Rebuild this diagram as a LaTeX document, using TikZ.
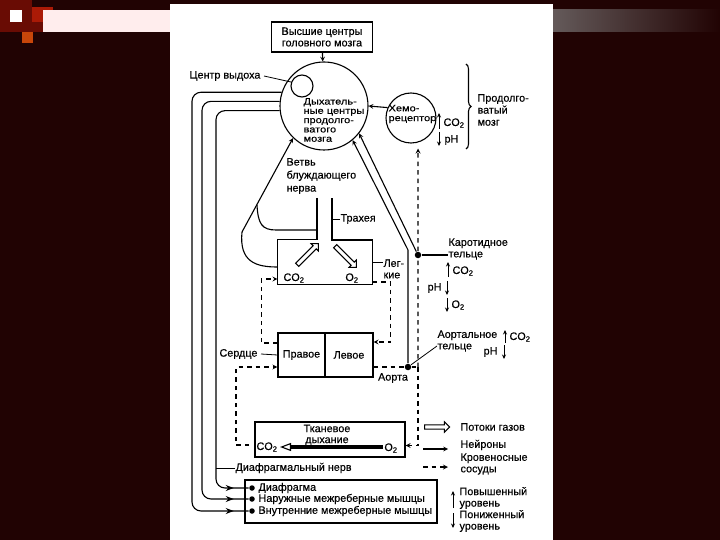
\documentclass[tikz,border=0pt]{standalone}
\usepackage{fontspec}
\setmainfont{Liberation Sans}[FakeBold=0.4]
\newfontfamily\widefont{Liberation Sans}[FakeStretch=1.2,FakeBold=0.4]
\usetikzlibrary{arrows.meta,calc,shapes.arrows,decorations.pathreplacing,decorations.markings}
\definecolor{slidebg}{RGB}{33,3,3}
\definecolor{bandgrey}{RGB}{100,90,90}
\definecolor{sqred}{RGB}{170,26,6}
\definecolor{sqorange}{RGB}{200,70,10}
\definecolor{sqdark}{RGB}{105,12,4}
\begin{document}
\begin{tikzpicture}[x=1pt,y=-1pt,>=stealth,line width=1.1pt,
  txt/.style={inner sep=0pt,font=\fontsize{10.8}{11.5}\selectfont,align=left},
  frame/.style={draw},
  nerve/.style={},
  vessel/.style={line width=1.2pt,dash pattern=on 4.5pt off 4pt},
  lvl/.style={line width=0.8pt,-{Stealth[length=4.5pt,width=4pt]}},
  gasflow/.style={single arrow,draw,fill=white,inner sep=1.6pt,
    single arrow head extend=3pt,minimum height=30pt},
  dot/.style={circle,fill,inner sep=0pt,minimum size=6.5pt},
  tomuscle/.style={nerve,rounded corners=9pt,postaction={decorate},
    decoration={markings,mark=at position -15pt with {\arrow{Stealth}}}}]
% slide background
\fill[slidebg] (0,0) rectangle (720,540);
\fill[sqdark] (0,0) rectangle (32,32);
\fill[white] (10,10) rectangle (22,22);
\fill[sqred] (32,7) rectangle (53,22);
\fill[sqdark] (32,22) rectangle (43,32);
\fill[sqorange] (22,32) rectangle (33,43);
\fill[white!93!red] (43,10) rectangle (170,32);
\shade[left color=bandgrey,right color=slidebg] (553,10) rectangle (720,32);
\fill[white] (170,4) rectangle (553,540);

% brain
\node[frame,txt,align=center,minimum width=101pt,minimum height=30pt] (hc) at (322,37) {Высшие центры\\головного мозга};
\node[draw,circle,minimum size=88pt] (rc) at (324,106) {};
\node[txt,font=\widefont\fontsize{9.2}{9.3}\selectfont,anchor=west] (rctxt) at (303,120) {Дыхатель-\\ные центры\\продолго-\\ватого\\мозга};
\node[draw,circle,minimum size=22pt] (exc) at (302,86) {};
\node[txt,anchor=east] (exlab) at (261,76) {Центр выдоха};
\draw[line width=0.8pt] ([xshift=3pt]exlab.east) -- (exc.160);
\draw[->] (hc) -- (rc);

% chemoreceptor
\node[draw,circle,minimum size=50pt] (chr) at (411,118) {};
\node[txt,font=\widefont\fontsize{9.2}{9.8}\selectfont,anchor=west] (chrtxt) at (388,114) {Хемо-\\рецептор};
\draw[->] (chr.156) -- (rc.east);
\node[txt,anchor=west] (chco2) at (443,123) {CO\textsubscript{2}};
\node[txt,anchor=west] (chph) at (444,140) {pH};
\draw[lvl] (439,129) -- (439,113);
\draw[lvl] (439,132) -- (439,146);
\draw[decorate,decoration={brace,amplitude=5pt}] (466,64) -- (466,149);
\node[txt,font=\fontsize{10.8}{12}\selectfont,anchor=west] (medlab) at (477,110) {Продолго-\\ватый\\мозг};

% vagus and lungs
\node[txt,font=\fontsize{10.8}{13}\selectfont,anchor=west] (vag) at (286,176) {Ветвь\\блуждающего\\нерва};
\node[minimum width=94pt,minimum height=44pt] (lung) at (325,262) {};
\draw (317,198) |- (lung.north west) |- (lung.south east) |- (332,240) -- (332,198);
\node[txt,anchor=west] (trach) at (340,219) {Трахея};
\draw[line width=0.8pt] (trach.west) -- ++(-7,0);
\node[txt,anchor=west] (lunglab) at (383,269) {Лег-\\кие};
\draw[line width=0.8pt] (lung.east) -- (lunglab.west |- lung.east);
\node[txt] (lco2) at (294,278) {CO\textsubscript{2}};
\node[txt] (lo2) at (352,278) {O\textsubscript{2}};
\node[gasflow,rotate=45] (gasl) at (307,255) {};
\node[gasflow,rotate=-45] (gasr) at (345,256) {};
\coordinate (va) at (242,232);
\coordinate (vb) at (257,205);
\draw[nerve,->] (va) -- (rc.226);
\draw[nerve] (va) .. controls (239,262) and (256,267) .. (lung.west |- 0,267);
\draw[nerve] (vb) .. controls (258,224) and (262,230) .. (276,230) -- (317,230);

% heart
\node[frame,txt,minimum width=47pt,minimum height=44pt] (rh) at (301.5,355) {Правое};
\node[frame,txt,minimum width=48pt,minimum height=44pt] (lh) at (349,355) {Левое};
\node[txt,anchor=east] (heartlab) at (258,354) {Сердце};
\draw[line width=0.8pt] ([xshift=3pt]heartlab.east) -- (rh.west);
\node[txt] (aorta) at (393,378) {Аорта};

% receptors on vessels
\node[dot] (cad) at (418,255) {};
\node[txt,anchor=west] (calab) at (448,249) {Каротидное\\тельце};
\draw (cad) -- (calab.west |- cad);
\node[dot] (aod) at (408,367) {};
\coordinate (aj) at (418,367);
\node[txt,anchor=west] (aolab) at (437,341) {Аортальное\\тельце};
\draw[line width=0.8pt] (aod) -- ([yshift=-5pt]aolab.west);
\draw[nerve,->] (cad) -- (rc.-38);
\draw[nerve,->] (aod) -- ++(0,-117) -- (rc.-50);
\node[txt,anchor=west] (caco2) at (452,271) {CO\textsubscript{2}};
\node[txt,anchor=east] (caph) at (442,288) {pH};
\node[txt,anchor=west] (cao2) at (451,305) {O\textsubscript{2}};
\draw[lvl] (448,277) -- (448,262);
\draw[lvl] (447,281) -- (447,295);
\draw[lvl] (447,298) -- (447,312);
\node[txt,anchor=west] (aoco2) at (509,337) {CO\textsubscript{2}};
\node[txt,anchor=east] (aoph) at (498,352) {pH};
\draw[lvl] (505,343) -- (505,330);
\draw[lvl] (504,345) -- (504,359);

% tissue
\node[frame,minimum width=150pt,minimum height=35pt] (tissue) at (330,439.5) {};
\node[txt,align=center,font=\fontsize{10.8}{11}\selectfont] (tisslab) at (327,435) {Тканевое\\дыхание};
\node[txt] (tco2) at (267,447) {CO\textsubscript{2}};
\node[txt] (to2) at (391,448) {O\textsubscript{2}};
\coordinate (th) at (291,447);
\draw[line width=3.5pt] ([xshift=-1pt]to2.west |- th) -- (th);
\draw[-{Triangle[open,length=11pt,width=8pt]}] ([xshift=1pt]th) -- ([xshift=2pt]tco2.east |- th);

% blood vessels
\draw[vessel,->] ([yshift=12pt]rh.west) -- ++(-16,0) |- ([yshift=-17pt]lung.west);
\draw[vessel,->] ([yshift=-20pt]lung.east) -- ++(18,0) |- ([yshift=13pt]lh.east);
\draw[vessel] ([yshift=-12pt]lh.east) -- (aod) -- (aj);
\draw[vessel,->,shorten >=6pt] (aj) -- (cad) -- (chr.-74);
\draw[vessel,->] (aj) |- ([yshift=-6pt]tissue.east);
\draw[vessel,->] ([xshift=-7pt,yshift=2pt]tco2.west) -- ++(-13,0) |- ([yshift=-12pt]rh.west);

% respiratory muscles
\node[frame,minimum width=192pt,minimum height=43pt,inner sep=0pt] (mus) at (341,501.5) {};
\node[dot,minimum size=5.5pt] (d1) at (252,488) {};
\node[dot,minimum size=5.5pt] (d2) at (252,499) {};
\node[dot,minimum size=5.5pt] (d3) at (252,511) {};
\node[txt,anchor=west] (m1) at (258,488) {Диафрагма};
\node[txt,anchor=west] (m2) at (258,499) {Наружные межреберные мышцы};
\node[txt,anchor=west] (m3) at (258,511) {Внутренние межреберные мышцы};
\draw[tomuscle] (rc.186.5) -| (216,488) -- (d1);
\draw[tomuscle] (rc.174.8) -| (202,499) -- (d2);
\draw[tomuscle] (rc.162.8) -| (192,511) -- (d3);
\node[txt,anchor=west] (phr) at (235,468) {Диафрагмальный нерв};
\draw[line width=0.8pt] (phr.west) -- (216,468);

% legend
\node[gasflow,minimum height=25pt] (lg1) at (436,427) {};
\node[txt,anchor=west] (lgt1) at (460,427) {Потоки газов};
\draw[nerve,->] (423,449) -- (448,449);
\node[txt,anchor=west] (lgt2) at (460,445) {Нейроны};
\draw[vessel,->] (423,467) -- (448,467);
\node[txt,anchor=west] (lgt3) at (460,464) {Кровеносные\\сосуды};
\draw[lvl] (453,508) -- (453,491);
\node[txt,anchor=west] (lgt4) at (459,498) {Повышенный\\уровень};
\draw[lvl] (453,513) -- (453,528);
\node[txt,anchor=west] (lgt5) at (459,521) {Пониженный\\уровень};
\end{tikzpicture}
\end{document}
